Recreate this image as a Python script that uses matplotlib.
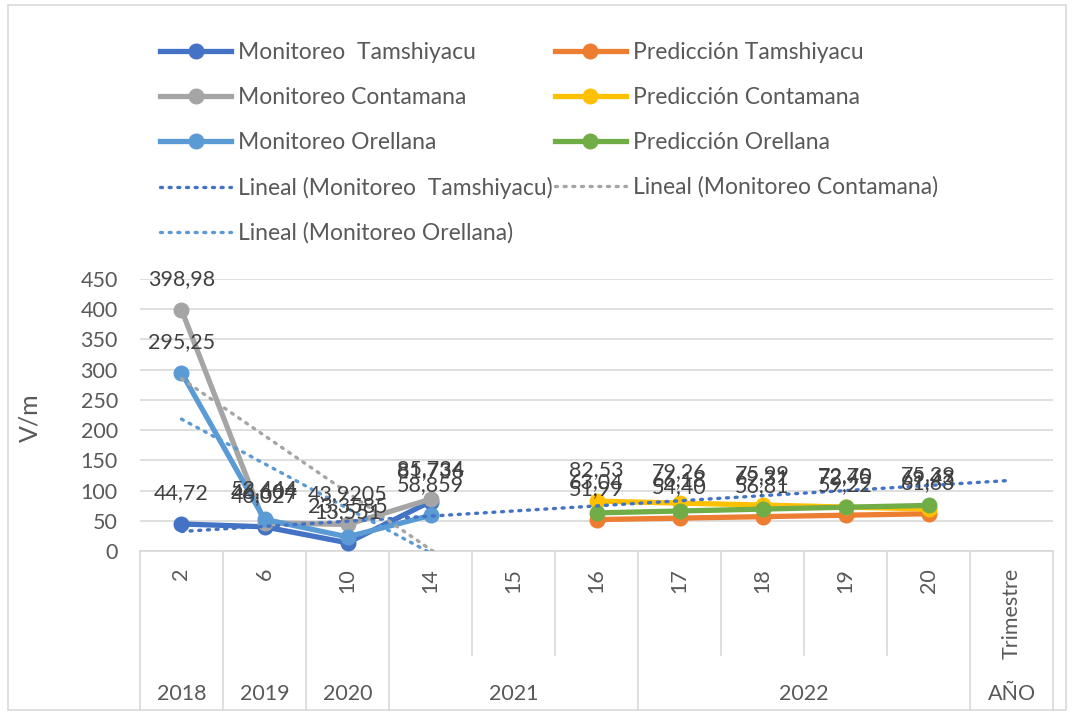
import matplotlib
matplotlib.use("Agg")
import matplotlib.pyplot as plt
from matplotlib.lines import Line2D
from matplotlib.patches import Rectangle
import numpy as np

plt.rcParams['font.family'] = ['Lato', 'DejaVu Sans']

# categories (trimestre) and year groups
categories = ['2', '6', '10', '14', '15', '16', '17', '18', '19', '20', 'Trimestre']
year_groups = [('2018', 0, 0), ('2019', 1, 1), ('2020', 2, 2), ('2021', 3, 5),
               ('2022', 6, 9), ('AÑO', 10, 10)]

# monitoring values (categories 2, 6, 10, 14)
mon_tamshiyacu = [44.72, 40.027, 13.551, 81.736]
mon_contamana = [398.98, 46.604, 43.9205, 85.734]
mon_orellana = [295.25, 52.444, 23.3585, 58.859]

# predictions (categories 16..20)
pred_tamshiyacu = [51.99, 54.40, 56.81, 59.22, 61.63]
pred_contamana = [82.53, 79.26, 75.99, 72.70, 69.43]
pred_orellana = [63.04, 66.18, 69.31, 72.45, 75.39]

c_tam, c_con, c_ore = '#4472C4', '#A5A5A5', '#5B9BD5'
c_ptam, c_pcon, c_pore = '#ED7D31', '#FFC000', '#70AD47'
txt = '#404040'
grid = '#D9D9D9'

fig = plt.figure(figsize=(10.73, 7.15), dpi=100)
W, H = 1073, 715
x0, x1, ytop, ybot = 140, 1053, 279, 551
ax = fig.add_axes([x0 / W, 1 - ybot / H, (x1 - x0) / W, (ybot - ytop) / H])

n = len(categories)
ax.set_xlim(-0.5, n - 0.5)
ax.set_ylim(0, 450)
ax.set_yticks(np.arange(0, 451, 50))
ax.yaxis.grid(True, color=grid, lw=1.2)
ax.set_axisbelow(True)
for s in ['top', 'right', 'left']:
    ax.spines[s].set_visible(False)
ax.spines['bottom'].set_color(grid)
ax.spines['bottom'].set_linewidth(1.2)
ax.tick_params(axis='y', length=0, pad=16, labelsize=15.5, labelcolor='#595959')
ax.set_xticks(range(n))
ax.set_xticklabels([])
ax.tick_params(axis='x', length=0)

mon_x = [0, 1, 2, 3]
pred_x = [5, 6, 7, 8, 9]

style = dict(lw=3.8, marker='o', ms=10.5, solid_capstyle='round', solid_joinstyle='round')


def labels(xs, ys, fmt):
    for xv, yv in zip(xs, ys):
        ax.annotate(fmt(yv), (xv, yv), xytext=(0, 22), textcoords='offset points',
                    ha='center', va='center', fontsize=15.5, color=txt, zorder=10)


ax.plot(mon_x, mon_tamshiyacu, color=c_tam, zorder=3, **style)
ax.plot(mon_x, mon_contamana, color=c_con, zorder=4, **style)
ax.plot(mon_x, mon_orellana, color=c_ore, zorder=5, **style)
ax.plot(pred_x, pred_tamshiyacu, color=c_ptam, zorder=6, **style)
ax.plot(pred_x, pred_contamana, color=c_pcon, zorder=7, **style)
ax.plot(pred_x, pred_orellana, color=c_pore, zorder=8, **style)

# linear trendlines (Excel-style: x = 1..N)
xfit = np.arange(1, len(mon_x) + 1)
xall = np.arange(1, n + 1)
dot = dict(lw=2.4, ls=(0, (0.6, 2.0)), dash_capstyle='round', zorder=9)
for vals, col in [(mon_tamshiyacu, c_tam), (mon_contamana, c_con), (mon_orellana, c_ore)]:
    k, b = np.polyfit(xfit, vals, 1)
    ax.plot(xall - 1, k * xall + b, color=col, **dot)

fmt_m = lambda v: str(v).replace('.', ',')
fmt_p = lambda v: f'{v:.2f}'.replace('.', ',')
labels(mon_x, mon_tamshiyacu, fmt_m)
labels(mon_x, mon_contamana, fmt_m)
labels(mon_x, mon_orellana, fmt_m)
labels(pred_x, pred_tamshiyacu, fmt_p)
labels(pred_x, pred_contamana, fmt_p)
labels(pred_x, pred_orellana, fmt_p)

# category labels and separators below the axis
trans = ax.get_xaxis_transform()
for i, c in enumerate(categories):
    ax.text(i, -17 / (ybot - ytop), c, transform=trans, rotation=90, ha='center', va='top',
            fontsize=15.5, color='#595959', clip_on=False)
group_edges = set()
for name, a, b in year_groups:
    group_edges.add(a - 0.5)
    group_edges.add(b + 0.5)
    ax.text((a + b) / 2, -(694 - ybot) / (ybot - ytop), name, transform=trans, ha='center',
            va='center', fontsize=15.5, color='#595959', clip_on=False)
for e in np.arange(-0.5, n, 1.0):
    bottom = 710 if e in group_edges else 655
    ax.plot([e, e], [0, -(bottom - ybot) / (ybot - ytop)], transform=trans, color=grid,
            lw=1.2, clip_on=False)

fig.text(30 / W, 1 - 418 / H, 'V/m', rotation=90, ha='center', va='center',
         fontsize=18, color='#595959')

# legend
def h(col):
    return Line2D([], [], color=col, lw=3.8, marker='o', ms=10.5)


def d(col):
    return Line2D([], [], color=col, lw=2.4, ls=(0, (0.6, 2.0)), dash_capstyle='round')


handles = [h(c_tam), h(c_con), h(c_ore), d(c_tam), d(c_ore),
           h(c_ptam), h(c_pcon), h(c_pore), d(c_con)]
names = ['Monitoreo  Tamshiyacu', 'Monitoreo Contamana', 'Monitoreo Orellana',
         'Lineal (Monitoreo  Tamshiyacu)', 'Lineal (Monitoreo Orellana)',
         'Predicción Tamshiyacu', 'Predicción Contamana', 'Predicción Orellana',
         'Lineal (Monitoreo Contamana)']
leg = fig.legend(handles, names, ncol=2, loc='upper left',
                 bbox_to_anchor=(160 / W, 1 - 42 / H), frameon=False,
                 fontsize=16.5, handlelength=3.1, handletextpad=0.3,
                 labelspacing=1.04, columnspacing=0.1, borderpad=0, borderaxespad=0)
for t in leg.get_texts():
    t.set_color('#595959')

fig.add_artist(Rectangle((8 / W, 5 / H), 1058 / W, 705 / H, transform=fig.transFigure,
                         fill=False, ec=grid, lw=1.2))

fig.savefig('out.png', dpi=100)
